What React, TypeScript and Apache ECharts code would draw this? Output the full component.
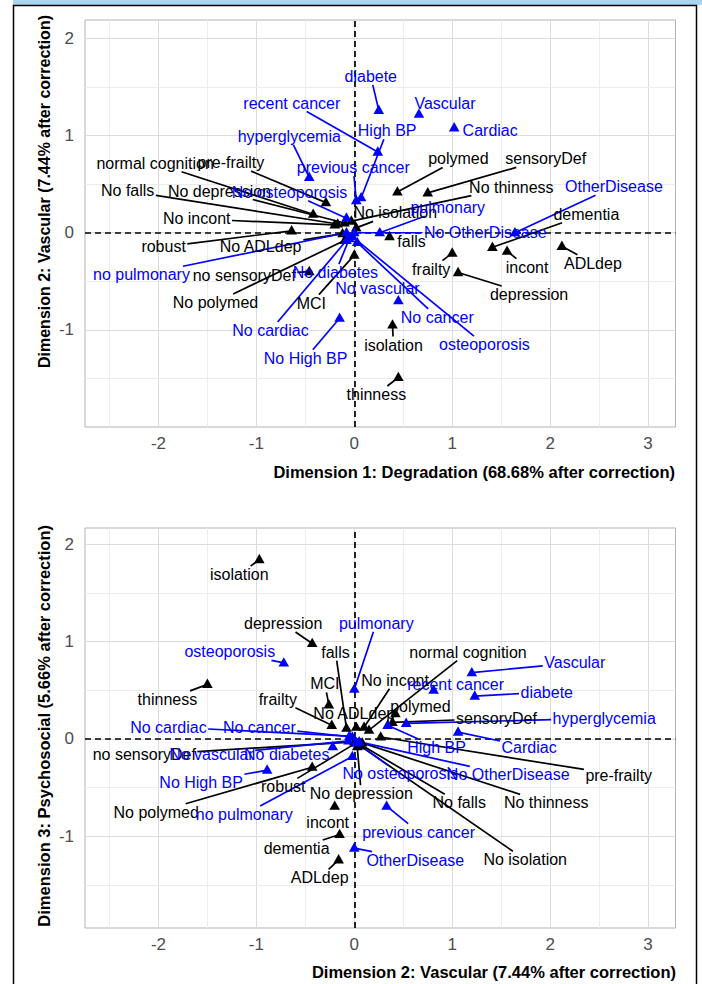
import React, { useEffect, useRef } from "react";
import * as echarts from "echarts";

const FONT = '"Liberation Sans", Arial, Helvetica, sans-serif';
const BLUE = "#0000FF";
const BLACK = "#000000";

// ---------- Axis ticks ----------
const xTickValues = [-2, -1, 0, 1, 2, 3];
const yTickValues = [-1, 0, 1, 2];
const xGridValues = [-2.5, -2, -1.5, -1, -0.5, 0, 0.5, 1, 1.5, 2, 2.5, 3];
const yGridValues = [-1.5, -1, -0.5, 0, 0.5, 1, 1.5, 2];

const xTitle1 = "Dimension 1: Degradation (68.68% after correction)";
const yTitle1 = "Dimension 2: Vascular (7.44% after correction)";
const xTitle2 = "Dimension 2: Vascular (7.44% after correction)";
const yTitle2 = "Dimension 3: Psychosocial (5.66% after correction)";

// ---------- Panel 1 (Dim 1 x Dim 2) ----------
const p1BlackLabels = ["ADLdep", "incont", "dementia", "frailty", "depression", "falls", "isolation", "thinness", "polymed", "sensoryDef", "No thinness", "No isolation", "No falls", "No depression", "normal cognition", "pre-frailty", "No incont", "robust", "No ADLdep", "no sensoryDef", "No polymed", "MCI"];
const p1BlackX = [2.12, 1.56, 1.41, 1.0, 1.06, 0.36, 0.39, 0.45, 0.44, 0.75, -0.03, 0.02, -0.17, -0.1, -0.42, -0.29, -0.2, -0.64, -0.12, -0.46, -0.1, 0.0];
const p1BlackY = [-0.14, -0.19, -0.15, -0.21, -0.41, -0.04, -0.95, -1.49, 0.42, 0.41, 0.12, 0.05, 0.09, 0.1, 0.19, 0.31, 0.08, 0.02, -0.01, -0.4, -0.08, -0.23];

const p1BlueLabels = ["diabete", "Vascular", "Cardiac", "recent cancer", "High BP", "previous cancer", "hyperglycemia", "No osteoporosis", "pulmonary", "OtherDisease", "No OtherDisease", "no pulmonary", "No diabetes", "No vascular", "No cancer", "osteoporosis", "No cardiac", "No High BP"];
const p1BlueX = [0.25, 0.66, 1.02, 0.24, 0.07, 0.02, -0.46, -0.08, 0.26, 1.64, 0.0, -0.08, -0.05, 0.45, 0.03, -0.02, -0.08, -0.15];
const p1BlueY = [1.26, 1.22, 1.08, 0.83, 0.36, 0.33, 0.57, 0.15, 0.0, 0.0, 0.0, 0.0, -0.06, -0.7, -0.1, -0.04, -0.08, -0.88];

// ---------- Panel 2 (Dim 2 x Dim 3) ----------
const p2BlackLabels = ["isolation", "depression", "falls", "thinness", "MCI", "No ADLdep", "frailty", "normal cognition", "No incont", "polymed", "sensoryDef", "pre-frailty", "No falls", "No thinness", "No depression", "No isolation", "incont", "dementia", "ADLdep", "No polymed", "robust", "no sensoryDef"];
const p2BlackX = [-0.97, -0.43, -0.08, -1.5, -0.26, 0.02, -0.23, 0.15, 0.1, 0.42, 0.39, 0.27, 0.05, 0.08, 0.03, 0.06, -0.2, -0.15, -0.16, -0.43, 0.02, 0.0];
const p2BlackY = [1.84, 0.98, 0.11, 0.56, 0.35, 0.12, 0.14, 0.09, 0.12, 0.26, 0.17, 0.02, -0.05, -0.04, -0.08, -0.07, -0.69, -0.98, -1.24, -0.29, -0.04, -0.03];

const p2BlueLabels = ["osteoporosis", "pulmonary", "Vascular", "recent cancer", "diabete", "hyperglycemia", "High BP", "Cardiac", "No OtherDisease", "No osteoporosis", "previous cancer", "OtherDisease", "No cardiac", "No cancer", "No vascular", "No diabetes", "No High BP", "no pulmonary"];
const p2BlueX = [-0.72, 0.0, 1.2, 0.81, 1.23, 0.53, 0.34, 1.06, 0.05, 0.02, 0.33, 0.0, -0.05, -0.02, -0.06, -0.22, -0.89, -0.02];
const p2BlueY = [0.78, 0.51, 0.68, 0.5, 0.44, 0.16, 0.14, 0.07, -0.03, -0.04, -0.69, -1.12, 0.03, 0.02, -0.02, -0.08, -0.32, -0.18];

// ---------- Label layout (pixel offsets of each label centre from its point) ----------
const p1BlackOffsets = [[31, 17], [20, 16], [94, -33], [-21, 16], [71, 22], [22, 5], [1, 20], [-22, 17], [61, -33], [118, -34], [160, -34], [39, -15], [-210, -33], [-125, -32], [-158, -51], [-95, -40], [-138, -6], [-128, 16], [-82, 13], [-65, 4], [-129, 62], [-43, 48]];
const p1BlueOffsets = [[-8, -34], [26, -11], [36, 3], [-86, -49], [26, -67], [-3, -33], [-20, -41], [-57, -26], [68, -25], [99, -46], [131, 0], [-205, 42], [-14, 34], [-21, -12], [80, 75], [132, 108], [-76, 90], [-34, 40]];
const p2BlackOffsets = [[-20, 15], [-29, -20], [-11, -76], [-40, 15], [-4, -21], [-2, -14], [-54, -26], [99, -78], [31, -47], [25, -7], [104, -4], [238, 38], [100, 59], [184, 60], [4, 47], [165, 114], [-7, 16], [-43, 14], [-19, 18], [-156, 45], [-73, 44], [-210, 13]];
const p2BlueOffsets = [[-54, -11], [22, -66], [103, -10], [22, -6], [72, -4], [198, -5], [49, 22], [71, 15], [149, 33], [44, 31], [32, 26], [61, 12], [-181, -9], [-93, -10], [-137, 14], [-46, 8], [-66, 12], [-108, 58]];

// ---------- helpers ----------
let measureCtx: CanvasRenderingContext2D | null = null;
function textWidth(s: string): number {
  if (!measureCtx) measureCtx = document.createElement("canvas").getContext("2d");
  if (!measureCtx) return s.length * 8;
  measureCtx.font = `16px ${FONT}`;
  return measureCtx.measureText(s).width;
}

function edgePoint(px: number, py: number, cx: number, cy: number, hw: number, hh: number) {
  const dx = px - cx;
  const dy = py - cy;
  if (Math.abs(dx) <= hw && Math.abs(dy) <= hh) return null;
  const sx = dx !== 0 ? hw / Math.abs(dx) : Infinity;
  const sy = dy !== 0 ? hh / Math.abs(dy) : Infinity;
  const s = Math.min(sx, sy);
  return [cx + dx * s, cy + dy * s];
}

function labelSeries(labels: string[], xs: number[], ys: number[], offsets: number[][], color: string, idx: number) {
  return {
    type: "custom",
    xAxisIndex: idx,
    yAxisIndex: idx,
    z: 5,
    clip: false,
    silent: true,
    data: xs.map((x, i) => [x, ys[i], i]),
    encode: { x: 0, y: 1 },
    renderItem: (params: any, api: any) => {
      const i = api.value(2);
      const p = api.coord([api.value(0), api.value(1)]);
      const off = offsets[i];
      const cx = p[0] + off[0];
      const cy = p[1] + off[1];
      const hw = textWidth(labels[i]) / 2 + 1.5;
      const hh = 8.5;
      const children: any[] = [];
      const e = edgePoint(p[0], p[1], cx, cy, hw, hh);
      if (e && Math.hypot(e[0] - p[0], e[1] - p[1]) > 9) {
        children.push({
          type: "line",
          shape: { x1: p[0], y1: p[1], x2: e[0], y2: e[1] },
          style: { stroke: color, lineWidth: 1.7 },
          z2: 1,
        });
      }
      children.push({
        type: "polygon",
        shape: { points: [[p[0], p[1] - 5.8], [p[0] + 5.3, p[1] + 3.6], [p[0] - 5.3, p[1] + 3.6]] },
        style: { fill: color },
        z2: 5,
      });
      children.push({
        type: "text",
        x: cx,
        y: cy,
        style: {
          text: labels[i],
          fill: color,
          fontSize: 16,
          fontFamily: FONT,
          align: "center",
          verticalAlign: "middle",
        },
        z2: 10,
      });
      return { type: "group", children };
    },
  };
}

function gridSeries(idx: number) {
  const data: any[] = [];
  xGridValues.forEach((v) =>
    data.push({ xAxis: v, lineStyle: { color: Number.isInteger(v) ? "#DCDCDC" : "#ECECEC", width: 1, type: "solid" } })
  );
  yGridValues.forEach((v) =>
    data.push({ yAxis: v, lineStyle: { color: Number.isInteger(v) ? "#DCDCDC" : "#ECECEC", width: 1, type: "solid" } })
  );
  return [
    {
      type: "scatter",
      xAxisIndex: idx,
      yAxisIndex: idx,
      data: [[0, 0]],
      symbolSize: 0,
      silent: true,
      z: 1,
      markLine: { silent: true, symbol: ["none", "none"], label: { show: false }, data },
    },
    {
      type: "scatter",
      xAxisIndex: idx,
      yAxisIndex: idx,
      data: [[0, 0]],
      symbolSize: 0,
      silent: true,
      z: 2,
      markLine: {
        silent: true,
        symbol: ["none", "none"],
        label: { show: false },
        lineStyle: { color: "#000", width: 1.7, type: [6, 4] },
        data: [{ xAxis: 0 }, { yAxis: 0 }],
      },
    },
  ];
}

function xAxisCfg(idx: number) {
  return {
    type: "value",
    gridIndex: idx,
    min: -2.75,
    max: 3.28,
    splitLine: { show: false },
    axisLine: { show: false },
    axisTick: { show: true, length: 4, lineStyle: { color: "#B3B3B3" }, customValues: xTickValues },
    axisLabel: { customValues: xTickValues, color: "#4D4D4D", fontSize: 17, fontFamily: FONT, margin: 8 },
  };
}

function yAxisCfg(idx: number, min: number, max: number) {
  return {
    type: "value",
    gridIndex: idx,
    min,
    max,
    splitLine: { show: false },
    axisLine: { show: false },
    axisTick: { show: true, length: 4, lineStyle: { color: "#B3B3B3" }, customValues: yTickValues },
    axisLabel: { customValues: yTickValues, color: "#4D4D4D", fontSize: 17, fontFamily: FONT, margin: 11 },
  };
}

function titleText(text: string, x: number, y: number, rotate: boolean, size: number) {
  return {
    type: "text",
    x,
    y,
    rotation: rotate ? Math.PI / 2 : 0,
    style: {
      text,
      fill: "#000",
      fontSize: size,
      fontWeight: "bold",
      fontFamily: FONT,
      align: "right",
      verticalAlign: "middle",
      textAlign: "right",
      textVerticalAlign: "middle",
    },
  };
}

export default function App() {
  const ref = useRef<HTMLDivElement>(null);
  useEffect(() => {
    if (!ref.current) return;
    const chart = echarts.init(ref.current, undefined, { renderer: "svg" });
    const option: any = {
      animation: false,
      backgroundColor: "#ffffff",
      grid: [
        { left: 85, top: 20, width: 590.5, height: 407, show: true, borderColor: "#B3B3B3", borderWidth: 1 },
        { left: 85, top: 528, width: 590.5, height: 400, show: true, borderColor: "#B3B3B3", borderWidth: 1 },
      ],
      xAxis: [xAxisCfg(0), xAxisCfg(1)],
      yAxis: [yAxisCfg(0, -2.0, 2.19), yAxisCfg(1, -1.94, 2.165)],
      graphic: [
        { type: "rect", shape: { x: 13, y: 0, width: 689, height: 5 }, style: { fill: "#A9D5F0" } },
        { type: "rect", shape: { x: 13.5, y: 5.5, width: 683, height: 990 }, style: { fill: "none", stroke: "#000", lineWidth: 1.5 } },
        titleText(xTitle1, 675, 472, false, 16.5),
        titleText(yTitle1, 44, 15, true, 16),
        titleText(xTitle2, 676, 972, false, 16.5),
        titleText(yTitle2, 44, 525, true, 16.5),
      ],
      series: [
        ...gridSeries(0),
        ...gridSeries(1),
        labelSeries(p1BlackLabels, p1BlackX, p1BlackY, p1BlackOffsets, BLACK, 0),
        labelSeries(p1BlueLabels, p1BlueX, p1BlueY, p1BlueOffsets, BLUE, 0),
        labelSeries(p2BlackLabels, p2BlackX, p2BlackY, p2BlackOffsets, BLACK, 1),
        labelSeries(p2BlueLabels, p2BlueX, p2BlueY, p2BlueOffsets, BLUE, 1),
      ],
    };
    chart.setOption(option);
    return () => chart.dispose();
  }, []);
  return <div ref={ref} style={{ position: "absolute", left: 0, top: 0, width: 702, height: 984 }} />;
}
